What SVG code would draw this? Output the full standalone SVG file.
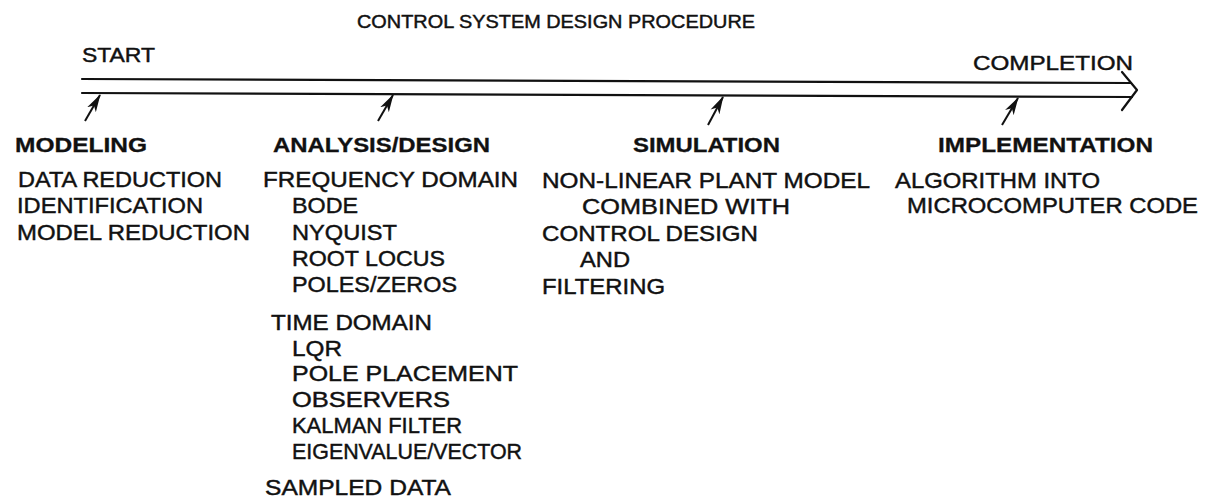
<svg xmlns="http://www.w3.org/2000/svg" width="1213" height="504" viewBox="0 0 1213 504">
<defs>
<style>
text{font-family:"Liberation Sans",Arial,sans-serif;fill:#111;stroke:#111;stroke-width:0.45}
.t{font-size:18.5px}
.s{font-size:20.5px}
.h{font-size:21px;font-weight:bold;stroke-width:0.3}
.b{font-size:22.5px}
.ln{stroke:#111;stroke-width:2.2;fill:none;stroke-linecap:round;stroke-linejoin:round}
.ar{stroke:#111;stroke-width:2;fill:none;marker-end:url(#ah)}
</style>
<marker id="ah" viewBox="0 0 18 12" refX="17" refY="6" markerWidth="18" markerHeight="12" markerUnits="userSpaceOnUse" orient="auto">
<path d="M0,1 L18,6 L0,11 L5,6 Z" fill="#111"/>
</marker>
</defs>
<rect width="1213" height="504" fill="#fff"/>
<g id="title"><text class="t" x="357" y="28" textLength="398" lengthAdjust="spacingAndGlyphs">CONTROL SYSTEM DESIGN PROCEDURE</text></g>
<g id="start"><text class="s" x="82" y="62" textLength="73" lengthAdjust="spacingAndGlyphs">START</text></g>
<g id="completion"><text class="s" x="973" y="70" textLength="160" lengthAdjust="spacingAndGlyphs">COMPLETION</text></g>
<g id="connectors">
<path class="ln" d="M82,79 L1131,83"/>
<path class="ln" d="M82,93 L1132,97"/>
<path class="ln" d="M1122,72 L1137,90 L1122,110"/>
<path class="ar" d="M85,121 L100,95"/>
<path class="ar" d="M378,121 L393,95"/>
<path class="ar" d="M708,125 L723,97"/>
<path class="ar" d="M1002,125 L1018,98"/>
</g>
<g id="modeling">
<text class="h" x="15" y="152" textLength="132" lengthAdjust="spacingAndGlyphs">MODELING</text>
<text class="b" x="18" y="187" textLength="204" lengthAdjust="spacingAndGlyphs">DATA REDUCTION</text>
<text class="b" x="17" y="213" textLength="186" lengthAdjust="spacingAndGlyphs">IDENTIFICATION</text>
<text class="b" x="17" y="240" textLength="233" lengthAdjust="spacingAndGlyphs">MODEL REDUCTION</text>
</g>
<g id="analysis-design">
<text class="h" x="273" y="152" textLength="217" lengthAdjust="spacingAndGlyphs">ANALYSIS/DESIGN</text>
<text class="b" x="263" y="187" textLength="255" lengthAdjust="spacingAndGlyphs">FREQUENCY DOMAIN</text>
<text class="b" x="292" y="213" textLength="66" lengthAdjust="spacingAndGlyphs">BODE</text>
<text class="b" x="292" y="240" textLength="105" lengthAdjust="spacingAndGlyphs">NYQUIST</text>
<text class="b" x="292" y="266" textLength="153" lengthAdjust="spacingAndGlyphs">ROOT LOCUS</text>
<text class="b" x="292" y="292" textLength="165" lengthAdjust="spacingAndGlyphs">POLES/ZEROS</text>
<text class="b" x="271" y="330" textLength="161" lengthAdjust="spacingAndGlyphs">TIME DOMAIN</text>
<text class="b" x="292" y="356" textLength="50" lengthAdjust="spacingAndGlyphs">LQR</text>
<text class="b" x="292" y="381" textLength="226" lengthAdjust="spacingAndGlyphs">POLE PLACEMENT</text>
<text class="b" x="292" y="407" textLength="158" lengthAdjust="spacingAndGlyphs">OBSERVERS</text>
<text class="b" x="292" y="433" textLength="170" lengthAdjust="spacingAndGlyphs">KALMAN FILTER</text>
<text class="b" x="292" y="459" textLength="230" lengthAdjust="spacingAndGlyphs">EIGENVALUE/VECTOR</text>
<text class="b" x="265" y="495" textLength="186" lengthAdjust="spacingAndGlyphs">SAMPLED DATA</text>
</g>
<g id="simulation">
<text class="h" x="633" y="152" textLength="147" lengthAdjust="spacingAndGlyphs">SIMULATION</text>
<text class="b" x="542" y="188" textLength="328" lengthAdjust="spacingAndGlyphs">NON-LINEAR PLANT MODEL</text>
<text class="b" x="582" y="214" textLength="208" lengthAdjust="spacingAndGlyphs">COMBINED WITH</text>
<text class="b" x="542" y="241" textLength="216" lengthAdjust="spacingAndGlyphs">CONTROL DESIGN</text>
<text class="b" x="580" y="267" textLength="50" lengthAdjust="spacingAndGlyphs">AND</text>
<text class="b" x="542" y="294" textLength="123" lengthAdjust="spacingAndGlyphs">FILTERING</text>
</g>
<g id="implementation">
<text class="h" x="938" y="152" textLength="215" lengthAdjust="spacingAndGlyphs">IMPLEMENTATION</text>
<text class="b" x="895" y="188" textLength="205" lengthAdjust="spacingAndGlyphs">ALGORITHM INTO</text>
<text class="b" x="907" y="213" textLength="291" lengthAdjust="spacingAndGlyphs">MICROCOMPUTER CODE</text>
</g>
</svg>
